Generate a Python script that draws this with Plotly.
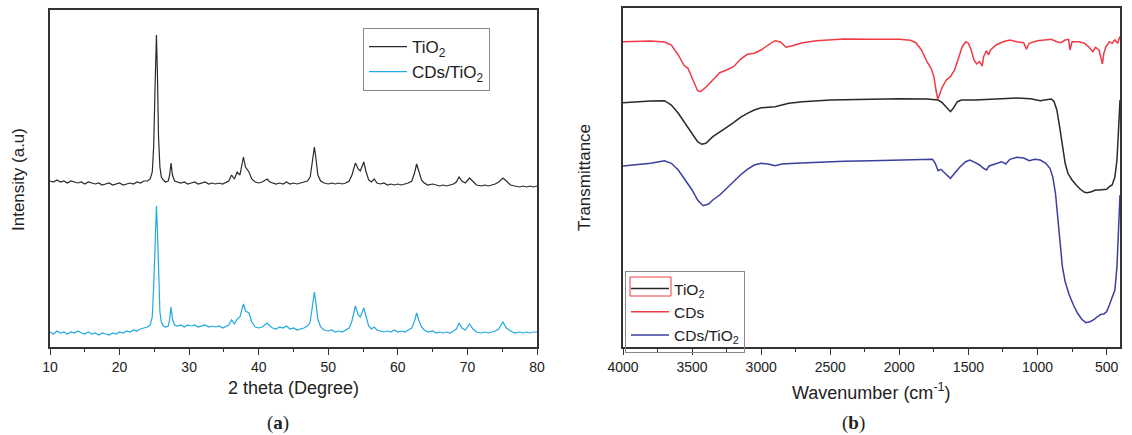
import plotly.graph_objects as go

# ---------------- XRD data (panel a) ----------------
XRD_2THETA = [
    10.0, 10.5, 11.0, 11.5, 12.0, 12.5, 13.0, 13.5, 14.0, 14.5,
    15.0, 15.5, 16.0, 16.5, 17.0, 17.5, 18.0, 18.5, 19.0, 19.5,
    20.0, 20.5, 21.0, 21.5, 22.0, 22.5, 23.0, 23.5, 24.0, 24.4,
    24.7, 24.9, 25.1, 25.3, 25.45, 25.6, 25.8, 26.0, 26.3, 26.6,
    27.0, 27.2, 27.4, 27.6, 27.9, 28.3, 28.8, 29.3, 29.8, 30.3,
    30.8, 31.3, 31.8, 32.3, 32.8, 33.3, 33.8, 34.3, 34.8, 35.3,
    35.7, 36.1, 36.5, 36.9, 37.3, 37.8, 38.1, 38.6, 39.0, 39.5,
    40.0, 40.5, 41.2, 41.6, 42.0, 42.5, 43.0, 43.5, 44.0, 44.5,
    45.0, 45.5, 46.0, 46.5, 47.0, 47.4, 47.7, 48.0, 48.2, 48.5,
    48.9, 49.4, 50.0, 50.5, 51.0, 51.5, 52.0, 52.5, 53.0, 53.4,
    53.9, 54.3, 54.6, 55.1, 55.4, 55.8, 56.2, 56.6, 57.0, 57.5,
    58.0, 58.5, 59.0, 59.5, 60.0, 60.5, 61.0, 61.5, 62.0, 62.4,
    62.7, 63.0, 63.4, 63.8, 64.3, 65.0, 65.5, 66.0, 66.5, 67.0,
    67.5, 68.0, 68.4, 68.8, 69.2, 69.7, 70.3, 70.8, 71.3, 72.0,
    72.5, 73.0, 73.5, 74.0, 74.5, 75.1, 75.6, 76.2, 76.8, 77.5,
    78.0, 78.5, 79.0, 79.5, 80.0,
]
XRD_TIO2 = [
    166, 165, 167, 165, 166, 164, 166, 165, 164, 165,
    163, 165, 164, 163, 164, 162, 163, 164, 162, 163,
    164, 162, 163, 164, 163, 165, 164, 166, 166, 168,
    175, 200, 260, 312, 270, 210, 180, 170, 167, 165,
    166, 172, 184, 172, 166, 165, 164, 165, 163, 164,
    165, 163, 164, 165, 163, 164, 163, 164, 163, 165,
    166, 172, 168, 175, 172, 190, 180, 175, 168, 165,
    164, 165, 168, 165, 164, 163, 164, 163, 165, 163,
    164, 163, 164, 165, 166, 170, 185, 200, 190, 172,
    166, 164, 163, 164, 163, 164, 163, 164, 166, 172,
    184, 178, 176, 185, 176, 167, 165, 168, 164, 163,
    164, 162, 163, 162, 163, 162, 163, 164, 166, 174,
    183, 175, 167, 164, 162, 163, 162, 161, 162, 161,
    162, 163, 165, 170, 166, 164, 169, 165, 162, 161,
    162, 161, 162, 163, 165, 169, 166, 162, 161, 160,
    161, 160, 161, 160, 161,
]
XRD_CDS_TIO2 = [
    15, 13, 16, 14, 15, 13, 15, 14, 16, 14,
    13, 15, 13, 14, 12, 14, 13, 12, 14, 13,
    15, 14, 16, 15, 17, 16, 18, 19, 20, 22,
    30, 60, 110, 141, 115, 70, 35, 25, 21, 20,
    21, 28, 40, 28, 22, 21, 22, 20, 22, 21,
    22, 20, 21, 22, 20, 21, 20, 21, 19, 21,
    22, 27, 23, 28, 30, 43, 36, 34, 25, 20,
    19, 20, 24, 21, 19, 18, 20, 19, 21, 18,
    19, 17, 18, 19, 21, 25, 40, 55, 45, 28,
    20, 17, 16, 17, 15, 16, 15, 17, 19, 26,
    41, 32, 30, 39, 30, 21, 18, 20, 17, 16,
    15, 16, 15, 17, 15, 16, 15, 17, 19, 26,
    34, 27, 20, 17, 15, 16, 14, 15, 14, 15,
    14, 16, 18, 24, 19, 17, 23, 18, 15, 14,
    15, 14, 15, 16, 18, 25, 19, 16, 14, 15,
    14, 15, 14, 15, 15,
]

# ---------------- FTIR data (panel b) ----------------
CDS_WN = [
    4000, 3900, 3800, 3700, 3650, 3600, 3560, 3530, 3500, 3460,
    3440, 3420, 3400, 3350, 3300, 3250, 3200, 3150, 3100, 3050,
    3000, 2950, 2900, 2860, 2820, 2780, 2700, 2600, 2500, 2400,
    2200, 2000, 1920, 1880, 1840, 1800, 1770, 1750, 1735, 1722,
    1710, 1690, 1660, 1630, 1600, 1570, 1545, 1520, 1500, 1480,
    1460, 1440, 1420, 1400, 1390, 1370, 1355, 1340, 1300, 1250,
    1200, 1150, 1100, 1080, 1060, 1000, 950, 900, 860, 830,
    800, 775, 765, 750, 700, 660, 630, 600, 580, 555,
    540, 530, 520, 505, 480, 460, 440, 420, 405, 403,
]
CDS_T = [
    305.3, 305.3, 306.0, 305.0, 302.0, 292.0, 282.0, 278.7, 268.7, 256.3,
    255.3, 257.7, 259.7, 267.0, 274.3, 277.0, 280.3, 287.7, 292.7, 293.7,
    297.0, 302.0, 306.3, 305.0, 299.7, 301.0, 304.3, 306.3, 307.0, 308.0,
    307.7, 307.7, 306.7, 304.3, 297.0, 285.3, 278.7, 270.3, 257.0, 248.0,
    252.0, 259.7, 267.0, 270.3, 277.0, 288.7, 300.3, 305.3, 303.7, 297.0,
    287.0, 283.0, 285.3, 281.0, 290.3, 296.3, 292.0, 297.0, 302.0, 305.3,
    307.0, 305.3, 304.3, 297.7, 303.7, 306.3, 307.0, 307.7, 305.3, 304.3,
    307.0, 307.7, 297.0, 305.3, 305.3, 303.7, 300.3, 295.3, 299.7, 297.0,
    288.7, 283.0, 293.7, 300.3, 305.3, 303.7, 307.0, 303.7, 310.3, 307.7,
]

TIO2_WN = [
    4000, 3900, 3800, 3700, 3650, 3600, 3550, 3500, 3460, 3430,
    3400, 3350, 3300, 3250, 3200, 3150, 3100, 3050, 3000, 2900,
    2800, 2700, 2500, 2200, 2000, 1800, 1720, 1690, 1660, 1630,
    1610, 1580, 1550, 1450, 1300, 1150, 1050, 980, 950, 900,
    880, 860, 840, 820, 800, 780, 750, 720, 690, 660,
    640, 610, 580, 550, 520, 500, 480, 460, 440, 425,
    415, 408, 403,
]
TIO2_T = [
    244.3, 245.3, 246.0, 246.3, 242.0, 233.7, 223.3, 213.7, 205.3, 202.7,
    203.7, 210.3, 215.3, 219.7, 224.3, 229.7, 233.7, 237.0, 239.3, 240.3,
    243.7, 245.3, 247.0, 247.7, 248.3, 248.0, 247.0, 244.3, 240.3, 235.3,
    238.7, 245.3, 247.0, 247.0, 248.0, 249.0, 248.3, 246.3, 247.0, 248.0,
    245.3, 237.0, 220.3, 200.3, 183.7, 173.7, 167.0, 162.0, 157.7, 154.7,
    154.3, 155.3, 157.0, 157.0, 157.7, 157.7, 160.3, 162.0, 170.0, 187.0,
    213.0, 233.7, 247.0,
]

CDS_TIO2_WN = [
    4000, 3900, 3800, 3700, 3650, 3600, 3550, 3500, 3460, 3420,
    3380, 3350, 3300, 3250, 3200, 3150, 3100, 3050, 3000, 2950,
    2900, 2850, 2750, 2600, 2400, 2200, 2000, 1800, 1760, 1740,
    1720, 1700, 1680, 1650, 1630, 1600, 1560, 1520, 1490, 1450,
    1420, 1390, 1370, 1350, 1300, 1260, 1230, 1200, 1150, 1100,
    1060, 1020, 980, 940, 910, 890, 870, 855, 840, 820,
    800, 770, 740, 710, 680, 650, 620, 590, 560, 540,
    520, 500, 480, 460, 440, 425, 415, 408, 403,
]
CDS_TIO2_T = [
    181.0, 182.0, 183.7, 186.3, 183.7, 177.0, 167.0, 157.0, 147.0, 141.3,
    143.0, 147.0, 152.0, 158.7, 165.3, 172.0, 177.7, 182.0, 183.7, 183.0,
    181.3, 183.0, 183.7, 184.7, 185.7, 186.3, 187.0, 187.7, 187.7, 183.7,
    176.3, 177.7, 175.3, 172.0, 168.7, 173.7, 180.3, 185.3, 187.0, 184.3,
    182.0, 178.7, 177.0, 181.0, 183.7, 185.3, 183.0, 187.7, 189.7, 189.0,
    186.3, 187.7, 187.0, 183.7, 178.7, 170.3, 153.7, 130.3, 103.7, 80.3,
    65.3, 52.0, 42.0, 33.7, 27.7, 24.3, 25.3, 27.7, 31.0, 32.7,
    33.0, 35.3, 42.0, 48.7, 57.0, 80.3, 113.7, 140.3, 152.0,
]

W, H = 1132, 435
FONT = "Liberation Sans, Arial, sans-serif"


def px(xp):
    return xp / W


def py(yp):
    return (H - yp) / H


fig = go.Figure()

fig.add_trace(go.Scatter(x=XRD_2THETA, y=XRD_TIO2, mode="lines", name="TiO<sub>2</sub>",
                         line=dict(color="#2a2a2a", width=1.2), xaxis="x", yaxis="y",
                         legend="legend"))
fig.add_trace(go.Scatter(x=XRD_2THETA, y=XRD_CDS_TIO2, mode="lines", name="CDs/TiO<sub>2</sub>",
                         line=dict(color="#22a9e1", width=1.2), xaxis="x", yaxis="y",
                         legend="legend"))

fig.add_trace(go.Scatter(x=TIO2_WN, y=TIO2_T, mode="lines", name="TiO<sub>2</sub>",
                         line=dict(color="#2a2a2a", width=1.5), xaxis="x2", yaxis="y2",
                         legend="legend2"))
fig.add_trace(go.Scatter(x=CDS_WN, y=CDS_T, mode="lines", name="CDs",
                         line=dict(color="#ee3b45", width=1.5), xaxis="x2", yaxis="y2",
                         legend="legend2"))
fig.add_trace(go.Scatter(x=CDS_TIO2_WN, y=CDS_TIO2_T, mode="lines", name="CDs/TiO<sub>2</sub>",
                         line=dict(color="#3b3f9e", width=1.5), xaxis="x2", yaxis="y2",
                         legend="legend2"))

axis_common = dict(showline=True, mirror=True, linecolor="#333333", linewidth=1.5,
                   showgrid=False, zeroline=False, automargin=False)

fig.update_layout(
    width=W, height=H,
    margin=dict(l=0, r=0, t=0, b=0, autoexpand=False),
    paper_bgcolor="white", plot_bgcolor="white",
    font=dict(family=FONT, color="#222222"),
    xaxis=dict(domain=[px(50), px(537)], range=[10, 80], anchor="y",
               tickmode="array", tickvals=[10, 20, 30, 40, 50, 60, 70, 80],
               ticks="outside", ticklen=6, tickwidth=1.3, tickcolor="#333333",
               minor=dict(ticks="outside", ticklen=3, tickwidth=1.2, dtick=5, tick0=5,
                          tickcolor="#333333"),
               tickfont=dict(size=14, family=FONT), **axis_common),
    yaxis=dict(domain=[py(347), py(10)], range=[0, 337], anchor="x",
               showticklabels=False, ticks="", **axis_common),
    xaxis2=dict(domain=[px(623), px(1120)], range=[4000, 403], anchor="y2",
                tickmode="array", tickvals=[4000, 3500, 3000, 2500, 2000, 1500, 1000, 500],
                ticks="outside", ticklen=6, tickwidth=1.3, tickcolor="#333333",
                minor=dict(ticks="outside", ticklen=3, tickwidth=1.2, dtick=250, tick0=0,
                           tickcolor="#333333"),
                tickfont=dict(size=14, family=FONT), **axis_common),
    yaxis2=dict(domain=[py(347), py(8)], range=[0, 339], anchor="x2",
                showticklabels=False, ticks="", **axis_common),
    showlegend=True,
    legend=dict(x=px(363), y=py(28), xanchor="left", yanchor="top",
                bgcolor="white", bordercolor="#8a8a8a", borderwidth=1,
                font=dict(size=17, family=FONT), itemwidth=38),
    legend2=dict(x=px(625), y=py(271), xanchor="left", yanchor="top",
                 bgcolor="rgba(0,0,0,0)", bordercolor="#8a8a8a", borderwidth=1,
                 font=dict(size=15.5, family=FONT), itemwidth=38),
)

annotations = [
    dict(text="Intensity (a.u)", x=px(18), y=py(180), textangle=-90, font=dict(size=17)),
    dict(text="2 theta (Degree)", x=px(293), y=py(388), font=dict(size=18)),
    dict(text="(<b>a</b>)", x=px(278), y=py(423),
         font=dict(size=19, family="Liberation Serif, Times New Roman, serif")),
    dict(text="Transmittance", x=px(585), y=py(178), textangle=-90, font=dict(size=17)),
    dict(text="Wavenumber (cm<sup>-1</sup>)", x=px(871), y=py(391), font=dict(size=18)),
    dict(text="(<b>b</b>)", x=px(853), y=py(423),
         font=dict(size=19, family="Liberation Serif, Times New Roman, serif")),
]
for a in annotations:
    a.update(xref="paper", yref="paper", showarrow=False, xanchor="center", yanchor="middle")
fig.update_layout(annotations=annotations)

# red box around the TiO2 legend sample (as in the original legend)
fig.add_shape(type="rect", xref="paper", yref="paper",
              x0=px(630), x1=px(671), y0=py(296), y1=py(277),
              line=dict(color="#ee3b45", width=1))

fig.write_html("out.html")
